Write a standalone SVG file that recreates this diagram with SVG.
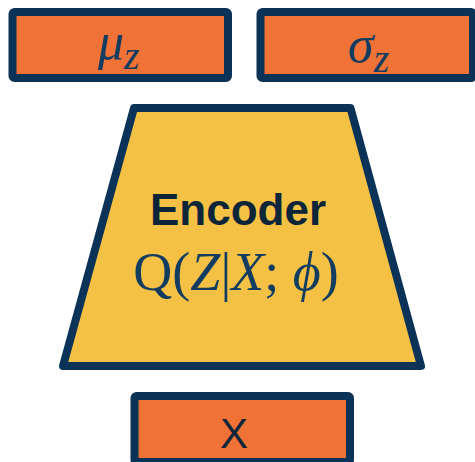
<svg xmlns="http://www.w3.org/2000/svg" width="475" height="462" viewBox="0 0 475 462">
<style>
.box{fill:#f07236;stroke:#0b3357;stroke-width:8;stroke-linejoin:round}
.enc{fill:#f5c144;stroke:#0b3357;stroke-width:8;stroke-linejoin:round}
.math{font-family:"Liberation Serif","DejaVu Serif",serif;fill:#133d60}
.it{font-style:italic}
.sans{font-family:"Liberation Sans","DejaVu Sans",sans-serif}
</style>
<rect width="475" height="462" fill="#ffffff"/>
<g id="mu">
<rect class="box" x="12.5" y="12" width="215.5" height="66" rx="2"/>
<text class="math it" x="98" y="59" font-size="52">μ<tspan font-size="40" dy="10">z</tspan></text>
</g>
<g id="sigma">
<rect class="box" x="260.5" y="12" width="212.5" height="66" rx="2"/>
<text class="math it" x="348" y="62" font-size="52">σ<tspan font-size="40" dy="10">z</tspan></text>
</g>
<g id="encoder">
<polygon class="enc" points="134,108 350.5,108 421,366 63,366"/>
<text class="sans" x="238" y="225" font-size="44" font-weight="bold" fill="#0d2538" text-anchor="middle">Encoder</text>
<text class="math" x="236" y="290" font-size="54" text-anchor="middle">Q(<tspan class="it">Z</tspan>|<tspan class="it">X</tspan>; <tspan class="it">ϕ</tspan>)</text>
</g>
<g id="x">
<rect class="box" x="134.5" y="396" width="215.5" height="66" rx="2"/>
<text class="sans" x="234" y="448" font-size="42" fill="#0d2538" text-anchor="middle">X</text>
</g>
<g id="connectors"></g>
</svg>
